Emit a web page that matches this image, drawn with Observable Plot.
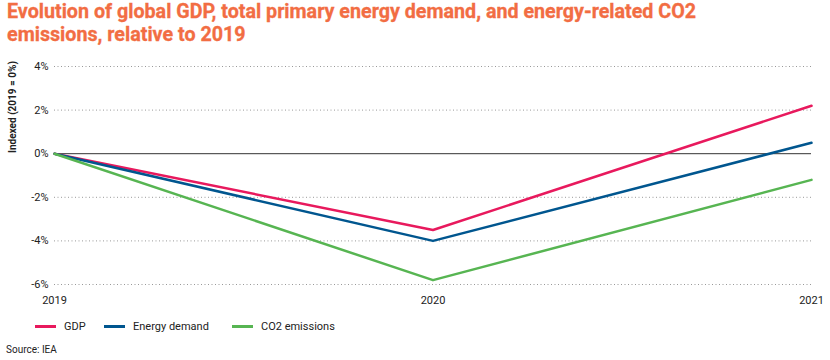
<!DOCTYPE html>
<html>
<head>
<meta charset="utf-8">
<script src="https://cdn.jsdelivr.net/npm/d3@7"></script>
<script src="https://cdn.jsdelivr.net/npm/@observablehq/plot@0.6"></script>
<style>
  html, body { margin: 0; padding: 0; background: #fff; }
  body { width: 830px; height: 360px; position: relative; overflow: hidden; font-family: Roboto, "Noto Sans", sans-serif; }
  #title { position: absolute; left: 7px; top: 0px; font-family: Roboto, sans-serif; font-size: 19.7px; font-weight: 700; line-height: 23px; color: #f26d43; white-space: nowrap; -webkit-text-stroke: 0.3px #f26d43; }
  #chart { position: absolute; left: 0; top: 55px; }
  #ylabel { position: absolute; left: 12px; top: 107px; transform: translate(-50%, -50%) rotate(-90deg); font-size: 10px; font-weight: 700; color: #222; white-space: nowrap; }
  .item { position: absolute; top: 320px; height: 12px; font-size: 11px; color: #222; display: flex; align-items: center; }
  .sw { width: 21px; height: 3px; margin-right: 8px; }
  #source { position: absolute; left: 6px; top: 344px; font-size: 10px; color: #222; }
</style>
</head>
<body>
<div id="title">Evolution of global GDP, total primary energy demand, and energy-related CO2<br>emissions, relative to 2019</div>
<div id="chart"></div>
<div id="ylabel">Indexed (2019 = 0%)</div>
<div id="legend"></div>
<div id="source">Source: IEA</div>
<script>
const years = [2019, 2020, 2021];
const seriesNames = ["GDP", "Energy demand", "CO2 emissions"];
const gdp = [0, -3.5, 2.2];
const energyDemand = [0, -4.0, 0.5];
const co2Emissions = [0, -5.8, -1.2];
const yTicks = [-6, -4, -2, 0, 2, 4];
const colors = ["#e8195d", "#00568f", "#57b552"];

const data = [];
[gdp, energyDemand, co2Emissions].forEach((vals, i) => {
  vals.forEach((v, j) => data.push({ year: years[j], value: v, series: seriesNames[i] }));
});

const chart = Plot.plot({
  width: 830,
  height: 255,
  marginLeft: 54,
  marginRight: 19,
  marginTop: 11,
  marginBottom: 26,
  style: { fontFamily: "Roboto, 'Noto Sans', sans-serif", fontSize: "11px", color: "#222", background: "#fff" },
  x: { domain: [2019, 2021], ticks: years, tickFormat: d => String(d), tickSize: 0, tickPadding: 12, label: null },
  y: { domain: [-6, 4], ticks: yTicks, tickFormat: d => d + "%", tickSize: 0, tickPadding: 6, label: null },
  color: { domain: seriesNames, range: colors },
  marks: [
    Plot.gridY(yTicks.filter(d => d !== 0), { stroke: "#999", strokeOpacity: 1, strokeDasharray: "1,2.5", strokeWidth: 1 }),
    Plot.ruleY([0], { stroke: "#333", strokeWidth: 1 }),
    Plot.line(data, { x: "year", y: "value", z: "series", stroke: "series", strokeWidth: 2.5 })
  ]
});
document.getElementById("chart").appendChild(chart);

const legend = document.getElementById("legend");
const legendLeft = [35, 104, 232];
seriesNames.forEach((name, i) => {
  const item = document.createElement("div");
  item.className = "item";
  item.style.left = legendLeft[i] + "px";
  const sw = document.createElement("div");
  sw.className = "sw";
  sw.style.background = colors[i];
  const lab = document.createElement("span");
  lab.textContent = name;
  item.appendChild(sw);
  item.appendChild(lab);
  legend.appendChild(item);
});
</script>
</body>
</html>
